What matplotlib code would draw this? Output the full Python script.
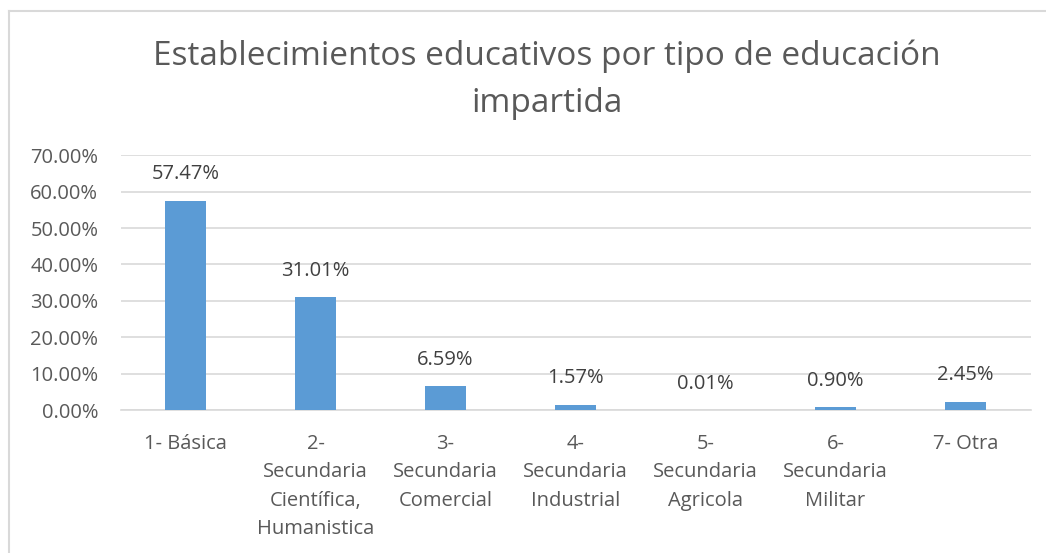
import matplotlib.pyplot as plt
from matplotlib.lines import Line2D

plt.rcParams['font.family'] = ['Open Sans', 'DejaVu Sans']

# data
categorias = ["1- Básica", "2-\nSecundaria\nCientífica,\nHumanistica", "3-\nSecundaria\nComercial",
              "4-\nSecundaria\nIndustrial", "5-\nSecundaria\nAgricola", "6-\nSecundaria\nMilitar", "7- Otra"]
porcentajes = [57.47, 31.01, 6.59, 1.57, 0.01, 0.90, 2.45]
yticks = [0, 10, 20, 30, 40, 50, 60, 70]

fig = plt.figure(figsize=(10.46, 5.53), dpi=100)
# chart border (only top and left visible in the crop)
fig.lines.append(Line2D([9 / 1046, 9 / 1046], [0, 1 - 11 / 553], transform=fig.transFigure,
                        color='#D9D9D9', linewidth=1.5))
fig.lines.append(Line2D([9 / 1046, 1], [1 - 11 / 553, 1 - 11 / 553], transform=fig.transFigure,
                        color='#D9D9D9', linewidth=1.5))

ax = fig.add_axes([120.5 / 1046, 0.2577, 910 / 1046, 0.462])

x = range(len(categorias))
ax.bar(x, porcentajes, width=0.315, color='#5B9BD5', zorder=3)
for i, v in zip(x, porcentajes):
    ax.annotate(f"{v:.2f}%", (i, v), xytext=(0, 19), textcoords='offset points',
                ha='center', va='center', fontsize=14.5, color='#404040')

ax.set_xlim(-0.5, len(categorias) - 0.5)
ax.set_ylim(0, 70)
ax.set_yticks(yticks)
ax.set_yticklabels([f"{t:.2f}%" for t in yticks])
ax.set_xticks(list(x))
ax.set_xticklabels(categorias, va='top', linespacing=1.55)
ax.tick_params(axis='both', length=0, labelsize=14.5, labelcolor='#595959')
ax.tick_params(axis='x', pad=17)
ax.tick_params(axis='y', pad=16)
ax.grid(axis='y', color='#D9D9D9', linewidth=1.2, zorder=0)
for s in ['top', 'right', 'left']:
    ax.spines[s].set_visible(False)
ax.spines['bottom'].set_color('#D9D9D9')
ax.spines['bottom'].set_linewidth(1.2)

fig.text(0.523, 0.856, "Establecimientos educativos por tipo de educación\nimpartida", ha='center', va='center',
         fontsize=24, color='#595959', linespacing=1.55)

fig.savefig("out.png", dpi=100)
